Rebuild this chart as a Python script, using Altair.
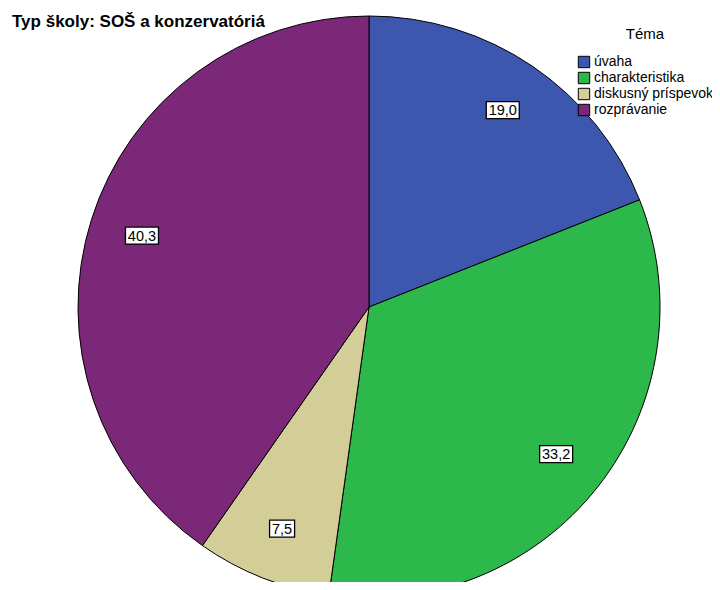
import altair as alt
import pandas as pd

# ---- data ----
categories = ["úvaha", "charakteristika", "diskusný príspevok", "rozprávanie"]
values = [19.0, 33.2, 7.5, 40.3]
labels = ["19,0", "33,2", "7,5", "40,3"]
colors = ["#3D56AE", "#2DB84B", "#D3CE98", "#7B2878"]
chart_title = "Typ školy: SOŠ a konzervatóriá"
legend_title = "Téma"

df = pd.DataFrame({
    "Téma": categories,
    "value": values,
    "label": labels,
    "ord": list(range(len(categories))),
})

# ---- layout constants ----
W, H = 704, 574
CX, CY, R = 361, 299, 291
LR = 238  # label radius
FONT = "Liberation Sans"

base = alt.Chart(df)

arcs = base.mark_arc(outerRadius=R, stroke="black", strokeWidth=1).encode(
    theta=alt.Theta("value:Q", stack=True),
    order=alt.Order("ord:Q"),
    color=alt.Color(
        "Téma:N",
        scale=alt.Scale(domain=categories, range=colors),
        sort=categories,
        legend=alt.Legend(
            title=legend_title,
            orient="none",
            legendX=569,
            legendY=19,
            titleAnchor="middle",
            titleFont=FONT,
            titleFontSize=15,
            titleFontWeight="normal",
            titleColor="black",
            titlePadding=13,
            labelFont=FONT,
            labelFontSize=14,
            labelColor="black",
            labelOffset=3,
            symbolType="square",
            symbolSize=130,
            symbolStrokeColor="black",
            symbolStrokeWidth=1,
            symbolOpacity=1,
            rowPadding=0,
        ),
    ),
    x=alt.value(CX),
    y=alt.value(CY),
)

positioned = base.transform_joinaggregate(
    total="sum(value)"
).transform_window(
    cum="sum(value)", sort=[alt.SortField("ord")], frame=[None, 0]
).transform_calculate(
    mid="(datum.cum - datum.value/2) / datum.total * 2 * PI",
).transform_calculate(
    lx=f"{CX} + {LR} * sin(datum.mid)",
    ly=f"{CY} - {LR} * cos(datum.mid)",
    w="length(datum.label) * 8 + 1",
).transform_calculate(
    bx1="datum.lx - datum.w/2",
    bx2="datum.lx + datum.w/2",
    by1="datum.ly - 8.5",
    by2="datum.ly + 8.5",
)

boxes = positioned.mark_rect(fill="white", stroke="black", strokeWidth=1.3).encode(
    x=alt.X("bx1:Q", scale=None, axis=None),
    x2="bx2:Q",
    y=alt.Y("by1:Q", scale=None, axis=None),
    y2="by2:Q",
)

texts = positioned.mark_text(
    font=FONT, fontSize=14.5, color="black", align="center", baseline="middle", dy=1
).encode(
    x=alt.X("lx:Q", scale=None, axis=None),
    y=alt.Y("ly:Q", scale=None, axis=None),
    text="label:N",
)

title = alt.Chart(pd.DataFrame({"t": [chart_title]})).mark_text(
    font=FONT, fontSize=17, fontWeight="bold", color="black", align="left", baseline="alphabetic"
).encode(
    x=alt.value(4),
    y=alt.value(19),
    text="t:N",
)

chart = alt.layer(arcs, boxes, texts, title).properties(
    width=W,
    height=H,
    autosize=alt.AutoSizeParams(type="none"),
    padding=0,
    background="white",
).configure_view(stroke=None)

chart.save("out.html", embed_options={"renderer": "svg", "actions": False})
